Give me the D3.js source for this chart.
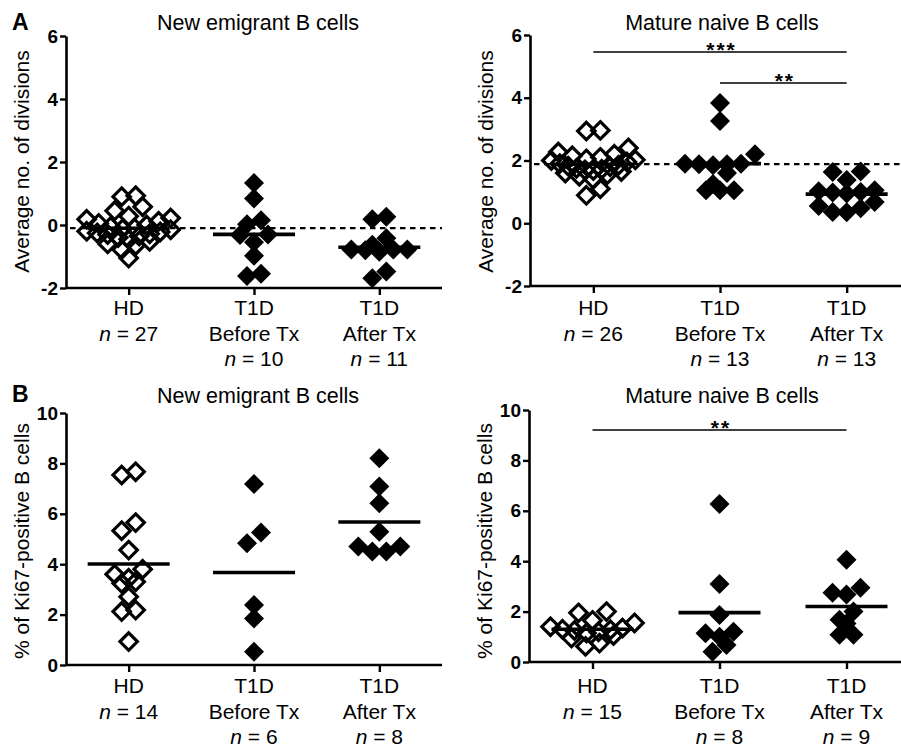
<!DOCTYPE html>
<html><head><meta charset="utf-8">
<script src="https://cdn.jsdelivr.net/npm/d3@7"></script>
<style>
body{margin:0;background:#fff}
svg{display:block}
text{font-family:"Liberation Sans", Arial, Helvetica, sans-serif;fill:#000}
</style>
</head><body>
<svg id="chart" width="901" height="750"></svg>
<script>
// ---------------- data ----------------
const groupLines = [["HD"], ["T1D", "Before Tx"], ["T1D", "After Tx"]];
const ticksA = [-2, 0, 2, 4, 6];
const ticksB = [0, 2, 4, 6, 8, 10];

// A: average number of divisions, new emigrant B cells
const divNewHD = [0.93, 0.90, 0.58, 0.45, 0.28, 0.22, 0.18, 0.12, 0.05, 0.00, -0.05, -0.10, -0.12, -0.15, -0.20, -0.22, -0.25, -0.28, -0.30, -0.35, -0.40, -0.45, -0.52, -0.60, -0.65, -0.78, -1.05];
const divNewBefore = [1.33, 0.84, 0.15, 0.02, -0.30, -0.32, -0.55, -0.98, -1.55, -1.62];
const divNewAfter = [0.26, 0.18, -0.42, -0.63, -0.85, -0.78, -0.78, -0.80, -0.78, -1.48, -1.69];
// A: average number of divisions, mature naive B cells
const divMatHD = [2.96, 2.94, 2.40, 2.27, 2.20, 2.15, 2.10, 2.05, 2.02, 2.00, 1.95, 1.90, 1.85, 1.82, 1.80, 1.75, 1.72, 1.70, 1.68, 1.65, 1.60, 1.55, 1.50, 1.40, 1.10, 0.89];
const divMatBefore = [3.83, 3.26, 2.20, 1.90, 1.88, 1.85, 1.90, 1.88, 1.60, 1.25, 1.05, 1.05, 1.05];
const divMatAfter = [1.65, 1.63, 1.38, 1.05, 1.00, 0.98, 0.95, 1.02, 0.68, 0.55, 0.48, 0.36, 0.35];
// B: % Ki67-positive, new emigrant B cells
const kiNewHD = [7.67, 7.54, 5.65, 5.33, 4.56, 3.80, 3.60, 3.44, 3.30, 3.24, 2.71, 2.18, 2.12, 0.93];
const kiNewBefore = [7.18, 5.26, 4.83, 2.38, 1.85, 0.53];
const kiNewAfter = [8.20, 7.08, 6.42, 5.29, 4.70, 4.50, 4.50, 4.70];
// B: % Ki67-positive, mature naive B cells
const kiMatHD = [2.00, 1.95, 1.65, 1.55, 1.40, 1.35, 1.30, 1.28, 1.25, 1.20, 1.15, 1.05, 0.95, 0.75, 0.62];
const kiMatBefore = [6.27, 3.10, 1.87, 1.20, 1.14, 1.00, 0.67, 0.41];
const kiMatAfter = [4.06, 2.95, 2.75, 2.68, 2.00, 1.68, 1.53, 1.08, 1.08];

// significance annotations: [fromGroup, toGroup, label]
const sigMatDiv = [[0, 2, "***"], [1, 2, "**"]];
const sigMatKi = [[0, 2, "**"]];

// ---------------- layout ----------------
const panels = [
  {letter: "A", letterY: 30, title: "New emigrant B cells", yLabel: "Average no. of divisions",
   data: [divNewHD, divNewBefore, divNewAfter], domain: [-2, 6], ticks: ticksA,
   x0: 66, x1: 442, xEnd: 442, yTop: 36, yBot: 288, titleX: 258, titleY: 30,
   yLabX: 28.5, yLabY: 161.5, refLine: true, sig: [], sigY: [], catY: 315},
  {title: "Mature naive B cells", yLabel: "Average no. of divisions",
   data: [divMatHD, divMatBefore, divMatAfter], domain: [-2, 6], ticks: ticksA,
   x0: 530, x1: 910, xEnd: 901, yTop: 35, yBot: 286, titleX: 722, titleY: 30,
   yLabX: 493, yLabY: 161.5, refLine: true, sig: sigMatDiv, sigY: [52, 83], catY: 315},
  {letter: "B", letterY: 402, title: "New emigrant B cells", yLabel: "% of Ki67-positive B cells",
   data: [kiNewHD, kiNewBefore, kiNewAfter], domain: [0, 10], ticks: ticksB,
   x0: 66, x1: 442, xEnd: 442, yTop: 413, yBot: 665, titleX: 258, titleY: 403,
   yLabX: 28.5, yLabY: 541, refLine: false, sig: [], sigY: [], catY: 693},
  {title: "Mature naive B cells", yLabel: "% of Ki67-positive B cells",
   data: [kiMatHD, kiMatBefore, kiMatAfter], domain: [0, 10], ticks: ticksB,
   x0: 529, x1: 910, xEnd: 901, yTop: 410, yBot: 662, titleX: 722, titleY: 403,
   yLabX: 492, yLabY: 541, refLine: false, sig: sigMatKi, sigY: [430], catY: 693}
];

const svg = d3.select("#chart");
const BIN_H = 11, STEP = 14, HALF_W = 42;
const R_FILL = 10, R_OPEN = 8.7;
const diamond = r => `M0,${-r}L${r},0L0,${r}L${-r},0Z`;

function swarm(vals, y) {
  const pts = vals.map(v => ({v, py: y(v), dx: 0}));
  const sorted = pts.slice().sort((a, b) => a.py - b.py);
  const bins = []; let cur = null;
  sorted.forEach(p => {
    if (!cur || p.py - cur.start >= BIN_H) { cur = {start: p.py, items: []}; bins.push(cur); }
    cur.items.push(p);
  });
  bins.forEach(b => {
    const k = b.items.length;
    const st = k > 1 ? Math.min(STEP, 2 * HALF_W / (k - 1)) : 0;
    const slots = d3.range(k).map(j => (j - (k - 1) / 2) * st)
      .sort((a, c) => Math.abs(a) - Math.abs(c) || a - c);
    b.items.slice().sort((a, c) => c.py - a.py).forEach((p, j) => p.dx = slots[j]);
  });
  return pts;
}

panels.forEach(P => {
  const g = svg.append("g");
  const x = d3.scalePoint().domain(d3.range(3)).range([P.x0, P.x1]).padding(0.5);
  const y = d3.scaleLinear().domain(P.domain).range([P.yBot, P.yTop]);

  // axes
  const ya = g.append("g").attr("transform", `translate(${P.x0},0)`)
    .call(d3.axisLeft(y).tickValues(P.ticks).tickSize(6).tickSizeOuter(0).tickPadding(2).tickFormat(d3.format("d")));
  ya.select(".domain").attr("stroke-width", 2.6);
  ya.selectAll(".tick line").attr("stroke-width", 2.4);
  ya.selectAll(".tick text").attr("font-size", 19).attr("font-weight", "bold")
    .attr("font-family", "'Liberation Sans', Arial, sans-serif").attr("fill", "#000")
    .text(d => d < 0 ? "-" + Math.abs(d) : d);

  const xa = g.append("g").attr("transform", `translate(0,${P.yBot})`)
    .call(d3.axisBottom(x).tickSize(7).tickSizeOuter(0).tickFormat(""));
  xa.select(".domain").attr("stroke-width", 2.6).attr("d", `M${P.x0},0H${P.xEnd}`);
  xa.selectAll(".tick line").attr("stroke-width", 2.4);

  // category labels
  groupLines.forEach((lines, i) => {
    const t = g.append("text").attr("text-anchor", "middle").attr("font-size", 21)
      .attr("x", x(i)).attr("y", P.catY);
    lines.forEach((ln, j) => t.append("tspan").attr("x", x(i)).attr("dy", j === 0 ? 0 : 25.5).text(ln));
    const nt = t.append("tspan").attr("x", x(i)).attr("dy", 25.5);
    nt.append("tspan").attr("font-style", "italic").text("n");
    nt.append("tspan").text(" = " + P.data[i].length);
  });

  // title, letter, y label
  g.append("text").attr("x", P.titleX).attr("y", P.titleY).attr("text-anchor", "middle")
    .attr("font-size", 21.5).text(P.title);
  if (P.letter) g.append("text").attr("x", 12).attr("y", P.letterY).attr("font-size", 23)
    .attr("font-weight", "bold").text(P.letter);
  g.append("text").attr("transform", `translate(${P.yLabX},${P.yLabY}) rotate(-90)`)
    .attr("text-anchor", "middle").attr("font-size", 21).text(P.yLabel);

  // reference dashed line at HD mean
  if (P.refLine) {
    const m = d3.mean(P.data[0]);
    g.append("line").attr("x1", P.x0 + 4).attr("x2", P.xEnd).attr("y1", y(m)).attr("y2", y(m))
      .attr("stroke", "#000").attr("stroke-width", 2.2).attr("stroke-dasharray", "5.5,4.5");
  }

  // points
  P.data.forEach((vals, i) => {
    const open = i === 0;
    const pts = swarm(vals, y);
    g.append("g").selectAll("path").data(pts).join("path")
      .attr("transform", d => `translate(${x(i) + d.dx},${d.py})`)
      .attr("d", diamond(open ? R_OPEN : R_FILL))
      .attr("fill", open ? "none" : "#000")
      .attr("stroke", open ? "#000" : "none")
      .attr("stroke-width", open ? 3.2 : 0)
      .attr("stroke-linejoin", "miter");
    const m = d3.mean(vals);
    g.append("line").attr("x1", x(i) - 41).attr("x2", x(i) + 41).attr("y1", y(m)).attr("y2", y(m))
      .attr("stroke", "#000").attr("stroke-width", 3.6);
  });

  // significance bars
  P.sig.forEach((s, k) => {
    const ly = P.sigY[k];
    g.append("line").attr("x1", x(s[0])).attr("x2", x(s[1])).attr("y1", ly).attr("y2", ly)
      .attr("stroke", "#000").attr("stroke-width", 1.6);
    g.append("text").attr("x", (x(s[0]) + x(s[1])) / 2 + 1.5).attr("y", ly + 4.5)
      .attr("text-anchor", "middle").attr("font-size", 21).attr("font-weight", "bold")
      .attr("letter-spacing", 2).text(s[2]);
  });
});
</script>
</body></html>
